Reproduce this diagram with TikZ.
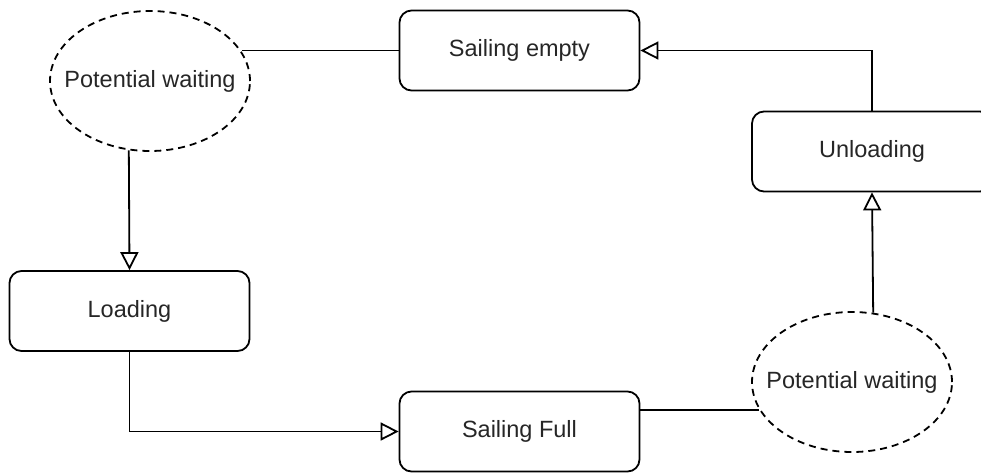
\documentclass[tikz,border=0pt]{standalone}
\usepackage{fontspec}
\setmainfont{Liberation Sans}
\usetikzlibrary{shapes.geometric,arrows.meta}
\begin{document}
\begin{tikzpicture}[x=1pt,y=-1pt,
  every node/.style={font=\fontsize{23.5}{28}\selectfont, text=black!85},
  state/.style={draw, line width=1.8pt, rounded corners=12pt,
    minimum width=240pt, minimum height=80pt, inner sep=0pt},
  waitnode/.style={draw, ellipse, line width=1.8pt, dash pattern=on 7pt off 5pt,
    minimum width=200pt, minimum height=140pt, inner sep=0pt},
  link/.style={line width=1.8pt},
  flow/.style={link, -{Triangle[open, length=18pt, width=18pt, line width=1.8pt]}}]
  \clip (0,0) rectangle (981,472);
  \fill[white] (0,0) rectangle (981,472);

  % cycle states
  \node[state] (se) at (519.5,50.5) {Sailing empty};
  \node[state] (unl) at (872,151.5) {Unloading};
  \node[state] (load) at (129.5,311) {Loading};
  \node[state] (sf) at (519.5,431.5) {Sailing Full};

  % optional waiting before loading / unloading
  \node[waitnode, label={center:Potential waiting}] (pw1) at (150,81) {};
  \node[waitnode, label={center:Potential waiting}] (pw2) at (852,382) {};

  % connectors
  \draw[link] (se.west) -- (se.west -| pw1.18.4);
  \draw[flow] (pw1.253.75) -- (load.north);
  \draw[flow] (load.south) |- (sf.west);
  \draw[link] (pw2.197.7 -| sf.east) -- (pw2.197.7);
  \draw[flow] (pw2.73.75) -- (unl.south);
  \draw[flow] (unl.north) |- (se.east);
\end{tikzpicture}
\end{document}
